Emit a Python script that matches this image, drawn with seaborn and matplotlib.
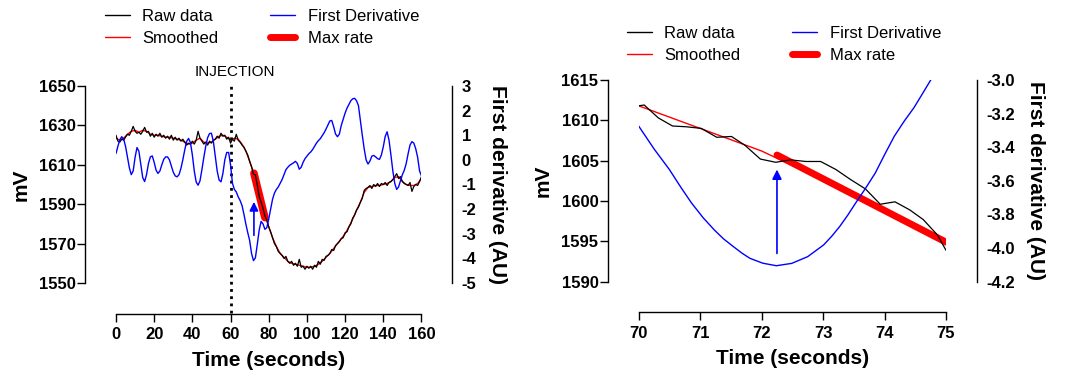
import numpy as np
import pandas as pd
import seaborn as sns
import matplotlib.pyplot as plt
import matplotlib.transforms as mtransforms
from matplotlib.lines import Line2D

# ---- full recording (left panel) ----
raw_time = list(range(0, 161))
raw_mv = [1625, 1622, 1621.5, 1623, 1622.5, 1624, 1625.5, 1625, 1627, 1629.5,
          1627, 1626, 1626.5, 1625.5, 1627, 1629, 1626.5, 1627, 1624.5, 1626,
          1624, 1625.5, 1624.5, 1626, 1624, 1625, 1623.5, 1624.5, 1623, 1625,
          1622.5, 1624, 1622.5, 1623.5, 1622, 1623, 1621.5, 1620, 1621, 1620.5,
          1622, 1620.5, 1622.5, 1627, 1623.5, 1622, 1620.5, 1621.5, 1620, 1622,
          1621, 1622.5, 1623, 1624.5, 1623.5, 1626, 1624.5, 1625, 1623, 1624,
          1621, 1623, 1622, 1625.5, 1622.5, 1621.5, 1620, 1619, 1617, 1615,
          1611.8, 1609, 1605.2, 1604.9, 1599.7, 1594, 1591, 1588, 1584, 1582,
          1578.5, 1576, 1573, 1570, 1568.5, 1566, 1565, 1564, 1562.5, 1563.5,
          1561, 1560, 1561, 1559, 1560, 1558.5, 1562, 1558, 1558.5, 1557,
          1558.5, 1557.5, 1558.5, 1557, 1559, 1558, 1561, 1559.5, 1562, 1561.5,
          1563.5, 1564, 1565, 1567, 1566.5, 1569, 1570, 1571, 1572.5, 1573,
          1575.5, 1576, 1578.5, 1580, 1583, 1584.5, 1587, 1588.5, 1591, 1593,
          1597, 1598, 1598.5, 1599.5, 1598, 1600, 1599, 1600.5, 1599, 1600.5,
          1600, 1601, 1599.5, 1601, 1601.5, 1602.5, 1604, 1605.5, 1603, 1604,
          1601.5, 1600.5, 1600, 1599.5, 1601, 1596.5, 1599, 1600, 1599.5, 1601.5,
          1604]

smooth_time = list(range(0, 161, 2))
smooth_mv = [1623.5, 1622.5, 1623.5, 1625.5, 1627, 1627.5, 1626.5, 1627.5, 1627, 1625.5,
             1625, 1625, 1624.5, 1624, 1624, 1623.5, 1623, 1622.5, 1621.5, 1620.5,
             1621, 1622.5, 1623.5, 1621.5, 1621, 1621.5, 1623, 1624.5, 1625, 1624,
             1622.5, 1623.5, 1623, 1620.5, 1617, 1611.8, 1606.2, 1599, 1591.5, 1584.5,
             1578.5, 1573, 1568.5, 1565, 1563, 1561, 1560, 1559.5, 1559, 1558.5,
             1558, 1558, 1558.5, 1559.5, 1561, 1563, 1565, 1567.5, 1570, 1572.5,
             1575, 1578.5, 1582.5, 1587, 1591, 1596, 1598.5, 1599, 1599.5, 1599.5,
             1600, 1600.5, 1601.5, 1603.5, 1604, 1601.5, 1600, 1599.5, 1599.5, 1600.5,
             1603]

deriv_time = list(range(0, 161))
deriv_au = [0.26, 0.55, 0.82, 0.94, 0.85, 0.55, 0.12, -0.32, -0.6, -0.45,
            0.1, 0.5, 0.35, -0.2, -0.72, -0.88, -0.6, -0.15, 0.12, 0.16,
            -0.1, -0.42, -0.55, -0.45, -0.2, 0.02, 0.12, 0.12, 0.0, -0.25,
            -0.5, -0.65, -0.69, -0.6, -0.35, 0.0, 0.4, 0.75, 0.87, 0.7,
            0.2, -0.45, -0.9, -1.03, -0.85, -0.4, 0.1, 0.55, 0.9, 1.07,
            1.08, 0.75, 0.15, -0.45, -0.82, -0.89, -0.55, 0.0, 0.3, 0.3,
            -0.2, -0.95, -1.2, -1.3, -1.5, -1.65, -1.85, -2.2, -2.6, -2.95,
            -3.27, -3.8, -4.09, -3.98, -3.44, -2.85, -2.5, -2.6, -2.82, -2.75,
            -2.4, -2.0, -1.6, -1.35, -1.2, -1.1, -0.95, -0.8, -0.6, -0.4,
            -0.3, -0.22, -0.17, -0.12, -0.06, -0.15, -0.38, -0.3, -0.1, 0.05,
            0.15, 0.25, 0.32, 0.42, 0.55, 0.68, 0.78, 0.86, 0.98, 1.1,
            1.25, 1.42, 1.58, 1.6, 1.35, 1.05, 0.94, 1.05, 1.4, 1.65,
            1.9, 2.1, 2.25, 2.4, 2.48, 2.5, 2.4, 2.2, 1.6, 1.0,
            0.45, 0.0, -0.17, -0.05, 0.15, 0.18, 0.12, 0.05, 0.02, 0.2,
            0.53, 0.95, 1.14, 0.8, 0.2, -0.45, -0.95, -1.2, -1.1, -0.85,
            -0.6, -0.42, -0.15, 0.25, 0.6, 0.74, 0.68, 0.45, 0.1, -0.45,
            -0.65]

max_time = [72.25, 78.0]
max_mv = [1605.7, 1583.2]
arrow_time = 72.25
arrow_mv = [1574.2, 1591.2]
injection_time = 60

# ---- zoom 70-75 s (right panel) ----
zoom_raw_time = [70.0, 70.09, 70.32, 70.55, 70.78, 71.02, 71.27, 71.51, 71.73, 71.98, 72.23, 72.47,
                 72.72, 72.96, 73.21, 73.44, 73.69, 73.93, 74.17, 74.41, 74.63, 74.86, 75.0]
zoom_raw_mv = [1611.8, 1611.9, 1610.3, 1609.3, 1609.2, 1609.0, 1607.9, 1608.0, 1606.9, 1605.2, 1604.8, 1605.1,
               1604.9, 1604.9, 1603.9, 1602.7, 1601.5, 1599.6, 1599.9, 1598.9, 1597.7, 1595.8, 1593.9]
zoom_deriv_time = [70.0, 70.25, 70.5, 70.68, 70.86, 71.05, 71.23, 71.38, 71.54, 71.68, 71.81, 72.02,
                   72.24, 72.49, 72.75, 73.01, 73.14, 73.27, 73.4, 73.53, 73.69, 73.85, 74.0,
                   74.16, 74.32, 74.48, 74.62, 74.76]
zoom_deriv_au = [-3.274, -3.41, -3.533, -3.635, -3.732, -3.82, -3.892, -3.945, -3.991, -4.03, -4.061,
                 -4.09, -4.105, -4.091, -4.051, -3.981, -3.93, -3.872, -3.805, -3.732, -3.645, -3.553,
                 -3.445, -3.334, -3.245, -3.164, -3.08, -2.995]
zoom_max_time = [72.25, 75.0]
zoom_max_mv = [1605.7, 1594.9]
zoom_arrow_mv = [1593.5, 1603.9]

sns.set_style('ticks')
plt.rcParams['font.family'] = ['Liberation Sans', 'DejaVu Sans']
plt.rcParams['axes.unicode_minus'] = False
plt.rcParams['axes.linewidth'] = 1.0
for key in ['text.color', 'axes.labelcolor', 'xtick.color', 'ytick.color', 'axes.edgecolor']:
    plt.rcParams[key] = 'black'

fig = plt.figure(figsize=(10.7, 3.74), dpi=100)
ax1 = fig.add_axes([0.1084, 0.2433, 0.2855, 0.5268])
ax3 = fig.add_axes([0.5969, 0.2468, 0.2872, 0.5393])
ax2 = ax1.twinx()
ax4 = ax3.twinx()

# left panel
sns.lineplot(x=smooth_time, y=smooth_mv, ax=ax1, color='red', lw=1.0)
sns.lineplot(x=max_time, y=max_mv, ax=ax1, color='red', lw=5.5, solid_capstyle='round')
sns.lineplot(x=raw_time, y=raw_mv, ax=ax1, color='black', lw=0.9)
sns.lineplot(x=deriv_time, y=deriv_au, ax=ax2, color='blue', lw=1.0)
ax1.annotate('', xy=(arrow_time, arrow_mv[1]), xytext=(arrow_time, arrow_mv[0]),
             arrowprops=dict(arrowstyle='-|>', color='blue', lw=1.2, mutation_scale=13,
                             shrinkA=0, shrinkB=0))
ax1.axvline(injection_time, ymin=-0.152, ymax=1, color='black', lw=2,
            linestyle=(0, (1, 1.6)), clip_on=False)
trans = mtransforms.blended_transform_factory(ax1.transData, ax1.transAxes)
ax1.text(injection_time + 2.4, 1.035, 'INJECTION', transform=trans, ha='center',
         va='bottom', fontsize=11)

ax1.set_xlim(0, 160)
ax1.set_ylim(1550, 1650)
ax2.set_ylim(-5, 3)
ax1.set_xticks(range(0, 161, 20))
ax1.set_yticks(range(1550, 1651, 20))
ax2.set_yticks(range(-5, 4))

# right panel
sns.lineplot(x=smooth_time, y=smooth_mv, ax=ax3, color='red', lw=1.0)
sns.lineplot(x=zoom_max_time, y=zoom_max_mv, ax=ax3, color='red', lw=5, solid_capstyle='round')
sns.lineplot(x=zoom_raw_time, y=zoom_raw_mv, ax=ax3, color='black', lw=0.9)
sns.lineplot(x=zoom_deriv_time, y=zoom_deriv_au, ax=ax4, color='blue', lw=1.0)
ax3.annotate('', xy=(arrow_time, zoom_arrow_mv[1]), xytext=(arrow_time, zoom_arrow_mv[0]),
             arrowprops=dict(arrowstyle='-|>', color='blue', lw=1.2, mutation_scale=14,
                             shrinkA=0, shrinkB=0))
ax3.set_xlim(70, 75)
ax3.set_ylim(1590, 1615)
ax4.set_ylim(-4.2, -3.0)
ax3.set_xticks(range(70, 76))
ax3.set_yticks(range(1590, 1616, 5))
ax4.set_yticks([-4.2, -4.0, -3.8, -3.6, -3.4, -3.2, -3.0])
ax4.set_yticklabels(['%.1f' % v for v in [-4.2, -4.0, -3.8, -3.6, -3.4, -3.2, -3.0]])

for a, b in [(ax1, ax2), (ax3, ax4)]:
    sns.despine(ax=a, offset=22)
    sns.despine(ax=b, left=True, bottom=True, right=False, offset=22)
    a.set_xlabel('Time (seconds)', fontsize=15, fontweight='bold', labelpad=6)
    a.set_ylabel('mV', fontsize=15, fontweight='bold', labelpad=6)
    b.set_ylabel('First derivative (AU)', fontsize=15, fontweight='bold',
                 rotation=270, va='bottom', labelpad=8)
    for axis in (a, b):
        axis.tick_params(labelsize=12, length=5.5, width=1, pad=1.5, color='black',
                         labelcolor='black')
        axis.tick_params(axis='x', pad=4.5)
        for lab in axis.get_xticklabels() + axis.get_yticklabels():
            lab.set_fontweight('bold')

handles = [Line2D([], [], color='black', lw=1.0),
           Line2D([], [], color='red', lw=1.0),
           Line2D([], [], color='blue', lw=1.0),
           Line2D([], [], color='red', lw=5, solid_capstyle='round')]
labels = ['Raw data', 'Smoothed', 'First Derivative', 'Max rate']
for x0, y0 in [(105 / 1070, 1 - 9 / 374), (627 / 1070, 1 - 25.5 / 374)]:
    fig.legend(handles, labels, loc='upper left', bbox_to_anchor=(x0, y0), ncol=2,
               frameon=False, fontsize=12, handlelength=1.5, handletextpad=0.75,
               columnspacing=3.1, labelspacing=0.42, borderpad=0, borderaxespad=0)

fig.savefig('out.png', dpi=100)
